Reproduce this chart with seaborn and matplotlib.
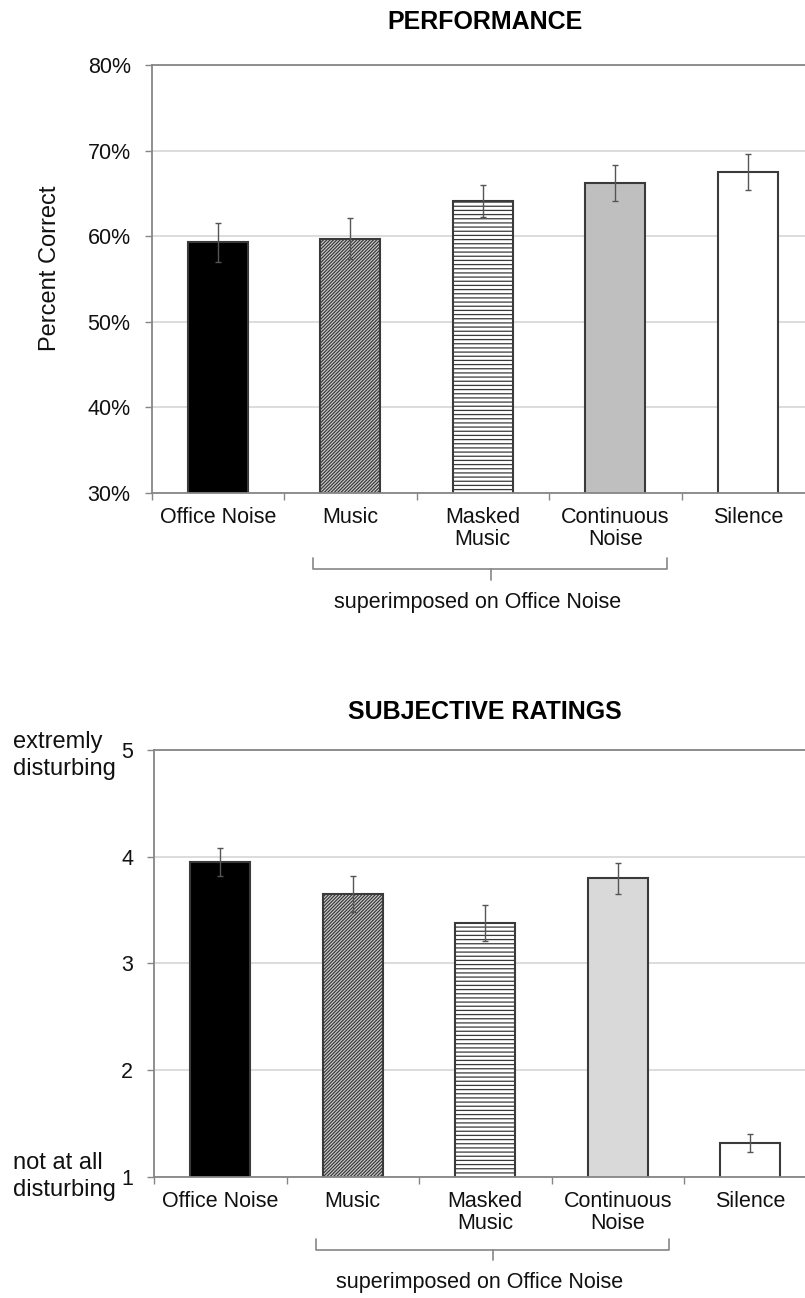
import numpy as np
import pandas as pd
import matplotlib
matplotlib.use('Agg')
import matplotlib.pyplot as plt
import matplotlib.transforms as mtransforms
from matplotlib.ticker import FixedLocator
import seaborn as sns

# data
conditions = ["Office Noise", "Music", "Masked\nMusic", "Continuous\nNoise", "Silence"]

perf_values = [59.3, 59.7, 64.1, 66.2, 67.5]
perf_errors = [2.3, 2.4, 1.9, 2.1, 2.05]
perf_ticks = [30, 40, 50, 60, 70, 80]
perf_ticklabels = ["30%", "40%", "50%", "60%", "70%", "80%"]

rating_values = [3.95, 3.65, 3.38, 3.80, 1.32]
rating_errors = [0.13, 0.165, 0.17, 0.145, 0.085]
rating_ticks = [1, 2, 3, 4, 5]
rating_ticklabels = ["1", "2", "3", "4", "5"]

perf_fills = ["black", "#cfcfcf", "white", "#bfbfbf", "white"]
rating_fills = ["black", "#cfcfcf", "white", "#d9d9d9", "white"]
hatches = [None, "//////////", "----", None, None]

sns.set_style("white")
plt.rcParams['font.family'] = ['Liberation Sans', 'DejaVu Sans']
plt.rcParams['hatch.linewidth'] = 0.9

GRAY = '#868686'
EDGE = '#3a3a3a'
TXT = '#111111'
FS = 15.5


def draw_panel(ax, values, errors, fills, ylim, yticks, yticklabels):
    df = pd.DataFrame({'condition': conditions, 'value': values})
    sns.barplot(data=df, x='condition', y='value', hue='condition',
                order=conditions, hue_order=conditions,
                palette=dict(zip(conditions, fills)), saturation=1,
                width=0.45, errorbar=None, legend=False, ax=ax,
                edgecolor=EDGE, linewidth=1.5)
    for p, h in zip(ax.patches, hatches):
        if h:
            p.set_hatch(h)
            p.set_edgecolor(EDGE)

    ax.errorbar(np.arange(len(conditions)), values, yerr=errors, fmt='none',
                ecolor='#555555', elinewidth=1, capsize=2.5, capthick=1, zorder=5)

    ax.set_xlim(-0.5, len(conditions) - 0.5)
    ax.set_ylim(*ylim)
    ax.set_yticks(yticks)
    ax.set_yticklabels(yticklabels)
    ax.set_xlabel('')
    ax.set_ylabel('')

    ax.set_axisbelow(True)
    ax.yaxis.grid(True, color='#d9d9d9', lw=1.3)
    for side in ['left', 'bottom', 'top']:
        ax.spines[side].set_color(GRAY)
        ax.spines[side].set_linewidth(1.3)
    ax.spines['right'].set_visible(False)

    ax.tick_params(axis='y', left=True, length=5, width=1, color=GRAY,
                   pad=10, labelsize=FS, labelcolor=TXT)
    ax.tick_params(axis='x', bottom=True, which='major', length=0, pad=10,
                   labelsize=FS, labelcolor=TXT)
    ax.xaxis.set_minor_locator(FixedLocator(np.arange(-0.5, len(conditions), 1.0)))
    ax.tick_params(axis='x', which='minor', bottom=True, length=5, width=1, color=GRAY)
    for t in ax.get_xticklabels():
        t.set_linespacing(1.1)


def draw_bracket(ax, y_top, y_bot, y_tick, y_text):
    trans = mtransforms.blended_transform_factory(ax.transData, ax.transAxes)
    x0, x1, xc = 0.72, 3.39, 2.06
    ax.plot([x0, x0, x1, x1], [y_top, y_bot, y_bot, y_top], color=GRAY, lw=1.2,
            transform=trans, clip_on=False)
    ax.plot([xc, xc], [y_bot, y_tick], color=GRAY, lw=1.2, transform=trans, clip_on=False)
    ax.text(xc - 0.1, y_text, "superimposed on Office Noise", transform=trans,
            ha='center', va='center', fontsize=FS, color=TXT)


fig = plt.figure(figsize=(8.05, 12.98), dpi=100)
W, H = 805.0, 1298.0

# top panel: performance
ax1 = fig.add_axes([151.5 / W, (H - 493) / H, 662.5 / W, 428 / H])
draw_panel(ax1, perf_values, perf_errors, perf_fills, (30, 80), perf_ticks, perf_ticklabels)
draw_bracket(ax1, -0.152, -0.178, -0.203, -0.257)
fig.text(485 / W, 1 - 22 / H, "PERFORMANCE", ha='center', va='center',
         fontsize=18, fontweight='bold', color='black')
fig.text(50 / W, 1 - 268 / H, "Percent Correct", rotation=90, ha='center',
         va='center', fontsize=17, color=TXT)

# bottom panel: subjective ratings
ax2 = fig.add_axes([154 / W, 121 / H, 662.5 / W, 427 / H])
draw_panel(ax2, rating_values, rating_errors, rating_fills, (1, 5), rating_ticks, rating_ticklabels)
draw_bracket(ax2, -0.145, -0.171, -0.195, -0.248)
fig.text(485 / W, 1 - 712 / H, "SUBJECTIVE RATINGS", ha='center', va='center',
         fontsize=18, fontweight='bold', color='black')
fig.text(13 / W, 1 - 731 / H, "extremly\ndisturbing", ha='left', va='top',
         fontsize=17, color=TXT, linespacing=1.3)
fig.text(13 / W, 1 - 1152 / H, "not at all\ndisturbing", ha='left', va='top',
         fontsize=17, color=TXT, linespacing=1.3)

fig.savefig('out.png', dpi=100)
